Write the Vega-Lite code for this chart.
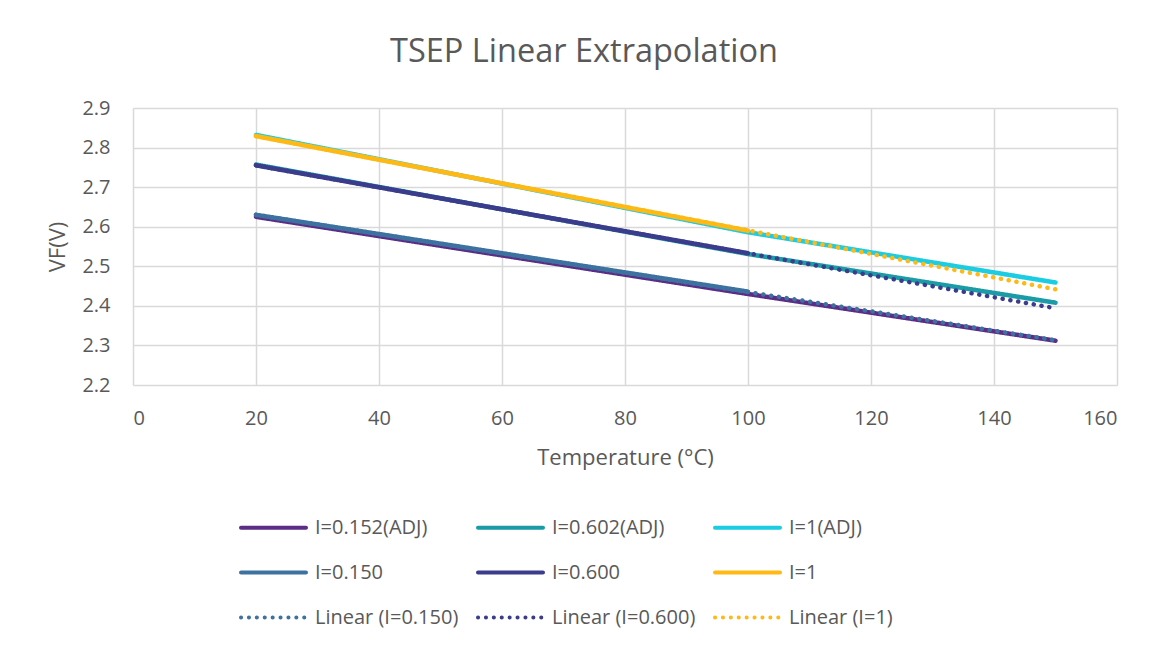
{
  "$schema": "https://vega.github.io/schema/vega-lite/v6.json",
  "width": 984,
  "height": 277,
  "autosize": {"type": "none"},
  "padding": {"left": 133, "top": 108, "right": 36, "bottom": 260},
  "background": "white",
  "title": {
    "text": "TSEP Linear Extrapolation",
    "font": "Open Sans",
    "fontSize": 32.5,
    "fontWeight": "normal",
    "color": "#595959",
    "anchor": "middle",
    "dx": -41,
    "offset": 4,
    "baseline": "alphabetic"
  },
  "data": {
    "values": [
      {"series": "I=0.152(ADJ)", "temp": 20, "vf": 2.625},
      {"series": "I=0.152(ADJ)", "temp": 100, "vf": 2.430},
      {"series": "I=0.152(ADJ)", "temp": 150, "vf": 2.312},
      {"series": "I=0.602(ADJ)", "temp": 20, "vf": 2.757},
      {"series": "I=0.602(ADJ)", "temp": 100, "vf": 2.531},
      {"series": "I=0.602(ADJ)", "temp": 150, "vf": 2.408},
      {"series": "I=1(ADJ)", "temp": 20, "vf": 2.832},
      {"series": "I=1(ADJ)", "temp": 100, "vf": 2.586},
      {"series": "I=1(ADJ)", "temp": 150, "vf": 2.459},
      {"series": "I=0.150", "temp": 20, "vf": 2.630},
      {"series": "I=0.150", "temp": 100, "vf": 2.436},
      {"series": "I=0.600", "temp": 20, "vf": 2.755},
      {"series": "I=0.600", "temp": 100, "vf": 2.533},
      {"series": "I=1", "temp": 20, "vf": 2.829},
      {"series": "I=1", "temp": 100, "vf": 2.590},
      {"series": "Linear (I=0.150)", "temp": 20, "vf": 2.630},
      {"series": "Linear (I=0.150)", "temp": 150, "vf": 2.313},
      {"series": "Linear (I=0.600)", "temp": 20, "vf": 2.755},
      {"series": "Linear (I=0.600)", "temp": 150, "vf": 2.394},
      {"series": "Linear (I=1)", "temp": 20, "vf": 2.829},
      {"series": "Linear (I=1)", "temp": 150, "vf": 2.442}
    ]
  },
  "mark": {"type": "line", "strokeWidth": 4.5, "strokeCap": "round"},
  "encoding": {
    "x": {
      "field": "temp",
      "type": "quantitative",
      "scale": {"domain": [0, 160], "nice": false},
      "axis": {
        "values": [0, 20, 40, 60, 80, 100, 120, 140, 160],
        "title": "Temperature (°C)",
        "labelPadding": 23,
        "titlePadding": 19
      }
    },
    "y": {
      "field": "vf",
      "type": "quantitative",
      "scale": {"domain": [2.2, 2.9], "nice": false, "zero": false},
      "axis": {
        "values": [2.2, 2.3, 2.4, 2.5, 2.6, 2.7, 2.8, 2.9],
        "format": ".1f",
        "title": "VF(V)",
        "labelPadding": 23,
        "titlePadding": 12
      }
    },
    "color": {
      "field": "series",
      "type": "nominal",
      "scale": {
        "domain": ["I=0.152(ADJ)", "I=0.602(ADJ)", "I=1(ADJ)", "I=0.150", "I=0.600", "I=1", "Linear (I=0.150)", "Linear (I=0.600)", "Linear (I=1)"],
        "range": ["#5B2D86", "#1A9BA6", "#1BCCE3", "#3D72A0", "#3B3C8C", "#FFB915", "#3D72A0", "#3B3C8C", "#FFB915"]
      },
      "legend": {
        "orient": "none",
        "direction": "horizontal",
        "legendX": 106,
        "legendY": 385,
        "columns": 3,
        "title": null,
        "symbolType": "stroke",
        "symbolSize": 4225,
        "symbolStrokeWidth": 4,
        "labelFont": "Open Sans",
        "labelFontSize": 20,
        "labelColor": "#595959",
        "labelOffset": 7,
        "columnPadding": 11,
        "rowPadding": -2.5,
        "labelLimit": 300,
        "encode": {"symbols": {"update": {"strokeCap": {"value": "round"}}}}
      }
    },
    "strokeDash": {
      "field": "series",
      "type": "nominal",
      "scale": {
        "domain": ["I=0.152(ADJ)", "I=0.602(ADJ)", "I=1(ADJ)", "I=0.150", "I=0.600", "I=1", "Linear (I=0.150)", "Linear (I=0.600)", "Linear (I=1)"],
        "range": [[1, 0], [1, 0], [1, 0], [1, 0], [1, 0], [1, 0], [0.1, 7.8], [0.1, 7.8], [0.1, 7.8]]
      },
      "legend": {
        "orient": "none",
        "direction": "horizontal",
        "legendX": 106,
        "legendY": 385,
        "columns": 3,
        "title": null,
        "symbolType": "stroke",
        "symbolSize": 4225,
        "symbolStrokeWidth": 4,
        "labelFont": "Open Sans",
        "labelFontSize": 20,
        "labelColor": "#595959",
        "labelOffset": 7,
        "columnPadding": 11,
        "rowPadding": -2.5,
        "labelLimit": 300,
        "encode": {"symbols": {"update": {"strokeCap": {"value": "round"}}}}
      }
    }
  },
  "config": {
    "view": {"stroke": null},
    "axis": {
      "labelFont": "Open Sans",
      "labelFontSize": 20,
      "labelColor": "#595959",
      "titleFont": "Open Sans",
      "titleFontSize": 22,
      "titleFontWeight": "normal",
      "titleColor": "#595959",
      "grid": true,
      "gridColor": "#D9D9D9",
      "gridWidth": 1.5,
      "domain": false,
      "ticks": false
    }
  }
}
